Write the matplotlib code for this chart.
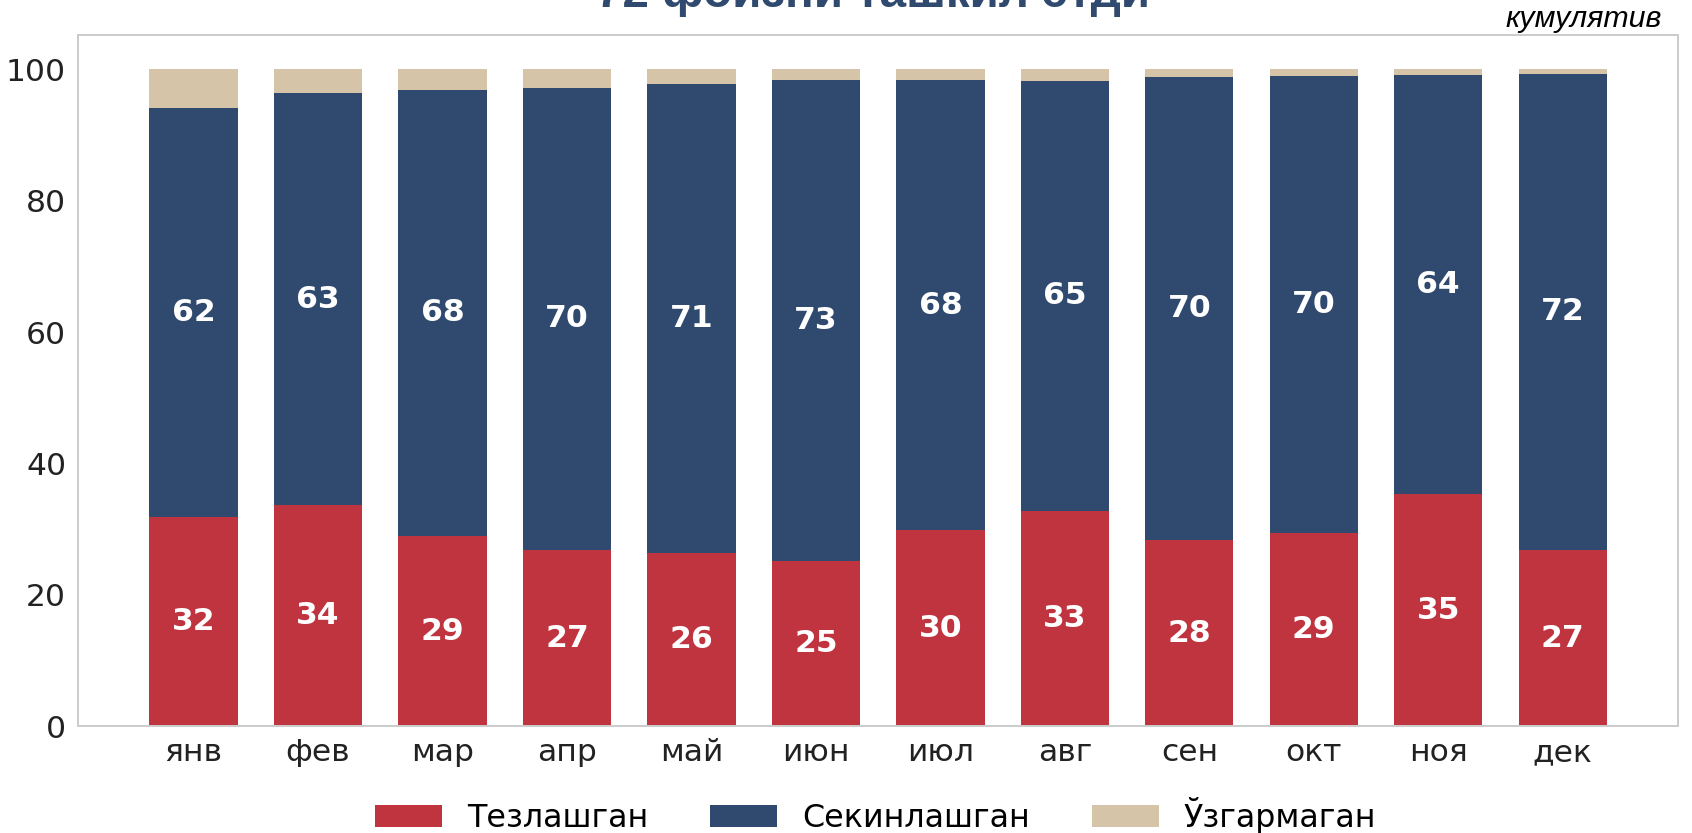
import numpy as np
import matplotlib.pyplot as plt

months = ['янв', 'фев', 'мар', 'апр', 'май', 'июн', 'июл', 'авг', 'сен', 'окт', 'ноя', 'дек']
faster = [31.9, 33.7, 28.9, 26.9, 26.4, 25.1, 29.9, 32.8, 28.4, 29.4, 35.4, 26.9]
slower = [62.2, 62.6, 68.0, 70.3, 71.4, 73.3, 68.4, 65.4, 70.4, 69.5, 63.7, 72.4]
same = [100 - a - b for a, b in zip(faster, slower)]

names = ['Тезлашган', 'Секинлашган', 'Ўзгармаган']
colors = ['#C0343F', '#2F4A6E', '#D5C4A8']

plt.rcParams['font.family'] = ['DejaVu Sans']

fig = plt.figure(figsize=(12, 5.908), dpi=141)
ax = fig.add_axes([0.046, 0.128, 0.946, 0.830])

x = np.arange(len(months))
w = 0.71
b1 = ax.bar(x, faster, w, color=colors[0], label=names[0])
b2 = ax.bar(x, slower, w, bottom=faster, color=colors[1], label=names[1])
b3 = ax.bar(x, same, w, bottom=np.array(faster) + np.array(slower), color=colors[2], label=names[2])

for i in range(len(months)):
    ax.text(x[i], faster[i] / 2, f'{faster[i]:.0f}', ha='center', va='center',
            color='white', fontsize=16, fontweight='bold')
    ax.text(x[i], faster[i] + slower[i] / 2, f'{slower[i]:.0f}', ha='center', va='center',
            color='white', fontsize=16, fontweight='bold')

ax.set_xlim(-0.93, 11.93)
ax.set_ylim(0, 105.2)
ax.set_yticks([0, 20, 40, 60, 80, 100])
ax.set_xticks(x)
ax.set_xticklabels(months)
ax.tick_params(length=0, labelsize=16, colors='#222222', pad=6)
for s in ax.spines.values():
    s.set_color('#CCCCCC')
    s.set_linewidth(1.0)

fig.legend(handles=[b1, b2, b3], labels=names, loc='center', bbox_to_anchor=(0.5176, 0.021),
           ncol=3, frameon=False, fontsize=16.2, columnspacing=1.95, handlelength=2.1,
           handletextpad=0.8)

fig.text(0.516, 0.992, '72 фоизни ташкил этди', ha='center', va='baseline',
         fontsize=24.3, fontweight='bold', color='#2F4A6E', family='Liberation Sans')
fig.text(0.982, 0.968, 'кумулятив', ha='right', va='baseline',
         fontsize=15.5, style='italic', color='black', family='Liberation Sans')

fig.savefig('out.png', dpi=141)
